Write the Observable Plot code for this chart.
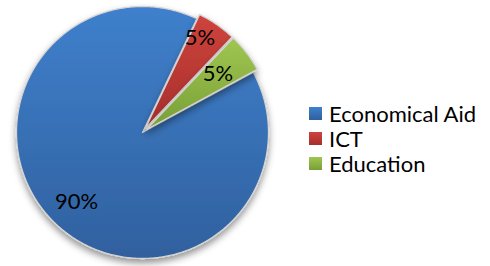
<!DOCTYPE html>
<html><head><meta charset="utf-8">
<script src="https://cdn.jsdelivr.net/npm/d3@7"></script>
<script src="https://cdn.jsdelivr.net/npm/@observablehq/plot@0.6"></script>
<style>
body{margin:0;background:#fff;font-family:Lato,"Liberation Sans",Arial,sans-serif}
#wrap{position:relative;width:490px;height:266px;overflow:hidden}
#legend{position:absolute;left:309px;top:101px}
.item{display:flex;align-items:center;height:25px;font-size:22px;color:#000;white-space:nowrap}
.sw{width:13px;height:13px;margin-right:7px;flex:none}
</style></head>
<body><div id="wrap"><div id="legend"></div></div>
<script>
// ---- data ----
const categories = ["Economical Aid", "ICT", "Education"];
const values = [90, 5, 5];
const valueLabels = ["90%", "5%", "5%"];

// ---- style / layout ----
const colorsTop = ["#3f80cc", "#cf433d", "#a0c650"];
const colorsBottom = ["#30609e", "#a52f2b", "#789f36"];
const W = 490, H = 266, cx = 142, cy = 132, R = 126;
const startDeg = 61.5;
const explodePx = [0, 5, 5];
const labelRadius = [0.76, 0.84, 0.72];
const labelTurnDeg = [0, -3.4, -0.4];

const pie = d3.pie().sort(null)
  .startAngle(startDeg * Math.PI / 180)
  .endAngle(startDeg * Math.PI / 180 + 2 * Math.PI)(values);

const slices = pie.map((p, i) => {
  const mid = (p.startAngle + p.endAngle) / 2;
  const off = explodePx[i] / R;
  const ox = off * Math.sin(mid), oy = off * Math.cos(mid);
  const steps = Math.max(8, Math.ceil((p.endAngle - p.startAngle) / 0.01));
  const pts = [{x: ox, y: oy}];
  for (let k = 0; k <= steps; k++) {
    const a = p.startAngle + (p.endAngle - p.startAngle) * k / steps;
    pts.push({x: ox + Math.sin(a), y: oy + Math.cos(a)});
  }
  pts.push({x: ox, y: oy});
  const lr = labelRadius[i];
  const la = mid + labelTurnDeg[i] * Math.PI / 180;
  return {i, name: categories[i], pts, label: valueLabels[i],
          lx: ox + lr * Math.sin(la), ly: oy + lr * Math.cos(la)};
});

const marks = slices.map(s => Plot.line(s.pts, {
  x: "x", y: "y", fill: `url(#grad${s.i})`, stroke: "#d4d4d4", strokeWidth: 1.3,
  curve: "linear-closed"
}));
marks.push(Plot.text(slices, {
  x: "lx", y: "ly", text: "label", fontSize: 22, fill: "#000",
  textAnchor: "middle", lineAnchor: "middle",
  fontFamily: 'Lato, "Liberation Sans", Arial, sans-serif'
}));

const chart = Plot.plot({
  width: W, height: H, margin: 0,
  x: {domain: [-cx / R, (W - cx) / R], axis: null},
  y: {domain: [-(H - cy) / R, cy / R], axis: null},
  marks
});

// gradient defs + shadow
const svg = d3.select(chart);
const defs = svg.insert("defs", ":first-child");
colorsTop.forEach((c, i) => {
  const g = defs.append("linearGradient").attr("id", "grad" + i)
    .attr("x1", 0).attr("y1", 0).attr("x2", 0).attr("y2", 1);
  g.append("stop").attr("offset", "0%").attr("stop-color", c);
  g.append("stop").attr("offset", "100%").attr("stop-color", colorsBottom[i]);
});
const f = defs.append("filter").attr("id", "shadow")
  .attr("x", "-10%").attr("y", "-10%").attr("width", "130%").attr("height", "130%");
f.append("feDropShadow").attr("dx", 0).attr("dy", 4).attr("stdDeviation", 3.5)
  .attr("flood-color", "#000").attr("flood-opacity", 0.42);
svg.selectAll("g[aria-label='line']").attr("filter", "url(#shadow)");

document.getElementById("wrap").prepend(chart);

const legend = d3.select("#legend");
categories.forEach((c, i) => {
  const it = legend.append("div").attr("class", "item");
  it.append("div").attr("class", "sw")
    .style("background", `linear-gradient(${colorsTop[i]}, ${colorsBottom[i]})`);
  it.append("span").text(c);
});
</script>
</body></html>
